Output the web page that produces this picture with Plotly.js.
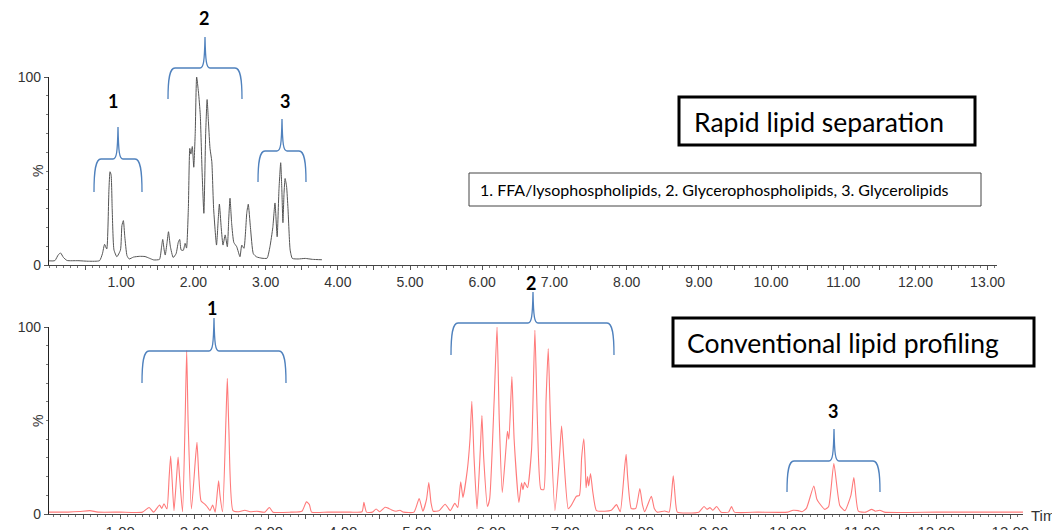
<!DOCTYPE html>
<html>
<head>
<meta charset="utf-8">
<script src="https://cdn.plot.ly/plotly-3.0.1.min.js"></script>
<style>html,body{margin:0;padding:0;background:#fff}#chart{width:1052px;height:530px}</style>
</head>
<body>
<div id="chart"></div>
<script>
// ---- Data ----
// Top: rapid lipid separation chromatogram (retention time, % intensity)
const rapidTime = [0.00,0.08,0.13,0.16,0.20,0.25,0.40,0.55,0.70,0.74,0.77,0.80,0.83,0.845,0.86,0.875,0.90,0.94,0.99,1.01,1.03,1.05,1.08,1.11,1.17,1.25,1.33,1.39,1.45,1.53,1.56,1.575,1.595,1.61,1.635,1.655,1.68,1.72,1.76,1.79,1.81,1.83,1.86,1.885,1.905,1.93,1.95,1.965,1.985,2.005,2.025,2.045,2.07,2.095,2.12,2.145,2.17,2.19,2.21,2.23,2.255,2.28,2.32,2.345,2.36,2.385,2.41,2.44,2.47,2.49,2.507,2.53,2.56,2.60,2.645,2.67,2.70,2.74,2.76,2.79,2.83,2.876,2.95,3.02,3.06,3.10,3.13,3.16,3.185,3.209,3.225,3.24,3.255,3.27,3.29,3.31,3.34,3.37,3.45,3.55,3.65,3.78];
const rapidPct  = [2.2,2.3,5.5,6.4,4.0,2.4,2.3,2.0,2.3,6,11,8.5,40,49.6,48,30,8,4.4,8,21,23.6,15,5,3.2,4.2,4.6,4.5,3.6,2.7,3,10,13.6,8,5.3,12,17.7,10,4,6,12,13.6,8,7.8,11.5,9,30,62,59,63,52,70,100,92,80,50,27.5,70,88,75,62,55,30,10.6,25,32.4,20,10.6,16,9.7,25,35.5,22,12,9.7,4.4,10.6,8.9,28,32.3,20,6,4.3,3.6,3.6,9.7,20,33,15,40,54.4,40,22.5,38,46,42,30,8,3.5,3.2,3.5,3.0,2.8];

// Bottom: conventional lipid profiling chromatogram
const convTime = [0.04,0.30,0.45,0.59,0.70,1.00,1.30,1.39,1.45,1.53,1.56,1.59,1.63,1.66,1.68,1.70,1.725,1.76,1.78,1.80,1.84,1.875,1.896,1.915,1.96,2.015,2.035,2.06,2.09,2.14,2.17,2.21,2.246,2.28,2.31,2.327,2.345,2.38,2.425,2.444,2.465,2.52,2.60,2.68,2.75,2.84,2.95,3.01,3.06,3.30,3.45,3.51,3.55,3.58,3.80,4.10,4.26,4.285,4.32,4.40,4.45,4.50,4.57,4.62,4.66,4.72,4.77,4.82,4.96,5.03,5.08,5.13,5.16,5.19,5.22,5.30,5.38,5.45,5.51,5.55,5.59,5.62,5.68,5.715,5.74,5.77,5.81,5.855,5.876,5.90,5.95,5.98,6.04,6.08,6.11,6.15,6.20,6.22,6.24,6.28,6.31,6.375,6.41,6.43,6.45,6.49,6.545,6.59,6.62,6.67,6.71,6.74,6.77,6.80,6.86,6.92,6.95,6.98,7.04,7.08,7.15,7.19,7.22,7.25,7.27,7.28,7.30,7.315,7.34,7.37,7.42,7.53,7.62,7.69,7.74,7.80,7.82,7.84,7.89,7.95,8.005,8.04,8.07,8.16,8.20,8.24,8.34,8.40,8.455,8.49,8.51,8.80,8.87,8.91,8.95,8.99,9.04,9.10,9.20,9.24,9.28,9.60,10.00,10.07,10.14,10.19,10.25,10.35,10.39,10.42,10.50,10.55,10.62,10.70,10.77,10.85,10.89,10.95,11.05,11.13,11.18,11.24,11.30,12.00,13.17];
const convPct  = [1,1,1.3,1.8,1,1,1,3.5,1,4.8,3,5.5,2.7,20,31,18,1.8,20,30.4,20,1.2,50,87.6,50,2.7,30,38.4,20,7,5.3,4,1.8,4.8,1,12,17.7,10,1.2,50,72.6,45,1.8,1.2,2,1.2,1.5,1,3.5,1,1,1.5,6.5,5,1,1,1,1.2,6.2,1,1,2.7,1.2,3.6,3,2.2,1.5,2,1,1,8.3,1.5,8,16.8,6,1.5,1.8,5.2,1.8,5.7,3.5,17.2,8.9,23.9,40,60.2,30,2.8,35,52.6,30,4.1,8,60,100,50,11.5,35,44.2,40,73.5,40,6.2,16.7,13,17,14,34.3,98.3,55,13.3,13,60,88.5,50,1.8,30,47,30,2.8,4.6,9.5,10,30,40.2,25,14,20,15,21.6,12,1.8,1.5,2,5,1.2,25,31.9,20,2.9,3,13.6,5,1.2,9.4,3,1,1.6,1,20.4,5,1,1,4,2.5,3.4,2,4,1,1,4,1,1,1,2,1.8,1.2,3,15,8,6,2.5,4,27,4.6,1.8,10,19.5,1.5,1,2.5,1.5,2,1,1,1];

// Tick labels
const majorTickVals = [0.5,1,1.5,2,2.5,3,3.5,4,4.5,5,5.5,6,6.5,7,7.5,8,8.5,9,9.5,10,10.5,11,11.5,12,12.5,13];
const majorTickText = ['','1.00','','2.00','','3.00','','4.00','','5.00','','6.00','','7.00','','8.00','','9.00','','10.00','','11.00','','12.00','','13.00'];
const yTickVals = [0,100];
const yTickText = ['0','100'];

// Text
const panelTitles = ['Rapid lipid separation','Conventional lipid profiling'];
const classLegend = '1. FFA/lysophospholipids, 2. Glycerophospholipids, 3. Glycerolipids';
const groupLabels = ['1','2','3'];

// ---- Layout helpers (pixel -> paper) ----
const W = 1052, H = 530;
const PX = v => v / W;
const PY = v => 1 - v / H;

const tickFont = {family:'Liberation Sans, Arial, sans-serif', size:14, color:'#333'};
const textFont = 'Lato, Carlito, Calibri, sans-serif';

function xAxis(domainPx, range, anchor, fs){
  return {
    domain:[PX(domainPx[0]), PX(domainPx[1])], range:range, anchor:anchor,
    showline:true, linecolor:'#444', linewidth:1, mirror:false,
    showgrid:false, zeroline:false,
    tickmode:'array', tickvals:majorTickVals, ticktext:majorTickText,
    ticks:'outside', ticklen:4, tickcolor:'#555', tickwidth:1,
    minor:{tick0:0, dtick:0.1, ticks:'outside', ticklen:2, tickcolor:'#777', showgrid:false},
    tickfont:Object.assign({}, tickFont, {size:fs}), fixedrange:true
  };
}
function yAxis(domainPx, anchor){
  return {
    domain:[PY(domainPx[0]), PY(domainPx[1])], range:[0,100], anchor:anchor,
    showline:true, linecolor:'#222', linewidth:1.2,
    showgrid:false, zeroline:false,
    tickmode:'array', tickvals:yTickVals, ticktext:yTickText,
    ticks:'outside', ticklen:4, tickcolor:'#555',
    minor:{tick0:0, dtick:10, ticks:'outside', ticklen:2, tickcolor:'#777', showgrid:false},
    tickfont:tickFont, fixedrange:true
  };
}

const braceColor = '#4F81BD';
function brace(L, R, tip, hY, endY, tipY){
  const d = 5, r = 7;
  const p = (x,y) => PX(x).toFixed(5)+','+PY(y).toFixed(5);
  const path = 'M'+p(L,endY)+
    ' C'+p(L,hY+(endY-hY)*0.35)+' '+p(L+1.5,hY)+' '+p(L+r,hY)+
    ' L'+p(tip-d,hY)+
    ' C'+p(tip-1.5,hY)+' '+p(tip-0.5,hY-6)+' '+p(tip,tipY)+
    ' C'+p(tip+0.5,hY-6)+' '+p(tip+1.5,hY)+' '+p(tip+d,hY)+
    ' L'+p(R-r,hY)+
    ' C'+p(R-1.5,hY)+' '+p(R,hY+(endY-hY)*0.35)+' '+p(R,endY);
  return {type:'path', xref:'paper', yref:'paper', path:path, line:{color:braceColor, width:1.3}, layer:'above'};
}
function rect(x0,y0,x1,y1,w,c){
  return {type:'rect', xref:'paper', yref:'paper', x0:PX(x0), x1:PX(x1), y0:PY(y1), y1:PY(y0), line:{color:c, width:w}, fillcolor:'rgba(0,0,0,0)', layer:'above'};
}
function label(text, x, y, opts){
  return Object.assign({text:text, xref:'paper', yref:'paper', x:PX(x), y:PY(y), showarrow:false, xanchor:'center', yanchor:'middle'}, opts||{});
}

const traces = [
  {x:rapidTime, y:rapidPct, xaxis:'x', yaxis:'y', type:'scatter', mode:'lines',
   line:{color:'#555555', width:1, shape:'spline', smoothing:0.5}, hoverinfo:'skip'},
  {x:convTime, y:convPct, xaxis:'x2', yaxis:'y2', type:'scatter', mode:'lines',
   line:{color:'#FF7A7A', width:1.1, shape:'spline', smoothing:0.5}, hoverinfo:'skip'}
];

const layout = {
  width:W, height:H, margin:{l:0,r:0,t:0,b:0},
  paper_bgcolor:'#ffffff', plot_bgcolor:'rgba(0,0,0,0)', showlegend:false,
  xaxis: xAxis([49,997],[0,13.13],'y',14),
  yaxis: yAxis([265,77],'x'),
  xaxis2: xAxis([49,1023],[0.04,13.17],'y2',15),
  yaxis2: yAxis([514,327],'x2'),
  shapes:[
    brace(94,142,118,159,192,127),
    brace(168,242,205,68,99,37),
    brace(258,306,282,151,182,119),
    brace(142,286,214,351,383,318),
    brace(451,614,533,323,355,292),
    brace(787,880,834,461,492,429),
    rect(679,97,975,145,3,'#000'),
    rect(469,173,981,206,1,'#444'),
    rect(673,318,1034,366,3,'#000')
  ],
  annotations:[
    label('%',38,171,{textangle:-90, font:{family:'Liberation Sans, Arial', size:14, color:'#333'}}),
    label('%',38,421,{textangle:-90, font:{family:'Liberation Sans, Arial', size:14, color:'#333'}}),
    label(groupLabels[0],113,101,{font:{family:textFont, size:18, color:'#000', weight:'bold'}}),
    label(groupLabels[1],204,18,{font:{family:textFont, size:18, color:'#000', weight:'bold'}}),
    label(groupLabels[2],285,101,{font:{family:textFont, size:18, color:'#000', weight:'bold'}}),
    label(groupLabels[0],212,308,{font:{family:textFont, size:18, color:'#000', weight:'bold'}}),
    label(groupLabels[1],531,283,{font:{family:textFont, size:18, color:'#000', weight:'bold'}}),
    label(groupLabels[2],833,411,{font:{family:textFont, size:18, color:'#000', weight:'bold'}}),
    label(panelTitles[0],692,122,{xanchor:'left', font:{family:textFont, size:26.5, color:'#000'}}),
    label(panelTitles[1],685,343,{xanchor:'left', font:{family:textFont, size:26.5, color:'#000'}}),
    label(classLegend,478,190,{xanchor:'left', font:{family:textFont, size:16, color:'#000'}}),
    label('Time',1029,515,{xanchor:'left', font:{family:'Liberation Sans, Arial', size:15, color:'#333'}})
  ]
};

Plotly.newPlot('chart', traces, layout, {staticPlot:true, displayModeBar:false});
</script>
</body>
</html>
